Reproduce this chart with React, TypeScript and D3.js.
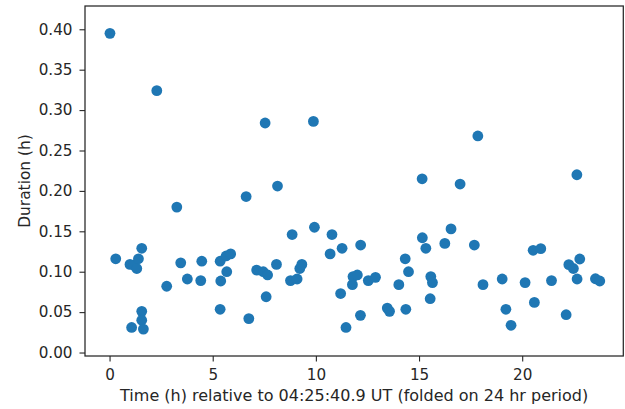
import React, { useEffect, useRef } from "react";
import * as d3 from "d3";

// folded time (h) and event duration (h)
const timeH = [
  0.02, 0.3, 0.99, 1.07, 1.18, 1.32, 1.4, 1.56, 1.56, 1.56, 1.64, 2.29, 2.77,
  3.26, 3.45, 3.77, 4.42, 4.47, 5.36, 5.36, 5.39, 5.65, 5.68, 5.87, 6.62, 6.75,
  7.13, 7.45, 7.54, 7.59, 7.66, 8.09, 8.14, 8.77, 8.85, 9.09, 9.22, 9.32, 9.88,
  9.93, 10.69, 10.78, 11.2, 11.27, 11.46, 11.77, 11.8, 12.01, 12.16, 12.17,
  12.54, 12.89, 13.46, 13.57, 14.02, 14.33, 14.36, 14.49, 15.15, 15.16, 15.33,
  15.54, 15.57, 15.65, 16.25, 16.55, 16.99, 17.68, 17.85, 18.1, 19.03, 19.21,
  19.46, 20.14, 20.53, 20.59, 20.9, 21.42, 22.13, 22.26, 22.48, 22.65, 22.66,
  22.79, 23.55, 23.76,
];
const durationH = [
  0.395, 0.116, 0.109, 0.031, 0.108, 0.104, 0.116, 0.129, 0.051, 0.04, 0.029,
  0.324, 0.082, 0.18, 0.111, 0.091, 0.089, 0.113, 0.113, 0.0535, 0.0885,
  0.1195, 0.1, 0.122, 0.193, 0.042, 0.102, 0.1, 0.284, 0.069, 0.096, 0.109,
  0.206, 0.089, 0.146, 0.091, 0.104, 0.109, 0.286, 0.155, 0.122, 0.146, 0.073,
  0.129, 0.031, 0.084, 0.094, 0.096, 0.046, 0.133, 0.089, 0.093, 0.055, 0.051,
  0.084, 0.116, 0.0535, 0.1, 0.215, 0.142, 0.129, 0.0666, 0.094, 0.0865, 0.135,
  0.153, 0.2085, 0.133, 0.268, 0.084, 0.091, 0.0535, 0.0337, 0.0865, 0.1265,
  0.062, 0.1285, 0.089, 0.0468, 0.1087, 0.104, 0.22, 0.091, 0.1157, 0.0913,
  0.0885,
];
const xTicks = [0, 5, 10, 15, 20];
const yTicks = [0, 0.05, 0.1, 0.15, 0.2, 0.25, 0.3, 0.35, 0.4];

const App: React.FC = () => {
  const ref = useRef<SVGSVGElement | null>(null);

  useEffect(() => {
    const svg = d3.select(ref.current);
    svg.selectAll("*").remove();

    const left = 85, right = 623.3, top = 6, bottom = 356;
    const ink = "#262626";
    const font = "'DejaVu Sans', sans-serif";

    const x = d3.scaleLinear().domain([-1.19, 24.9]).range([left, right]);
    const y = d3.scaleLinear().domain([-0.0043, 0.4288]).range([bottom, top]);

    const xAxis = svg
      .append("g")
      .attr("transform", `translate(0,${bottom})`)
      .call(d3.axisBottom(x).tickValues(xTicks).tickSize(5.5).tickPadding(8).tickFormat(d3.format("d")));
    const yAxis = svg
      .append("g")
      .attr("transform", `translate(${left},0)`)
      .call(d3.axisLeft(y).tickValues(yTicks).tickSize(5.5).tickPadding(7).tickFormat(d3.format(".2f")));

    [xAxis, yAxis].forEach((g) => {
      g.select(".domain").remove();
      g.selectAll(".tick line").attr("stroke", ink).attr("stroke-width", 1.1);
      g.selectAll(".tick text")
        .attr("fill", ink)
        .style("font-family", font)
        .style("font-size", "15.2px");
    });

    // frame
    svg
      .append("rect")
      .attr("x", left)
      .attr("y", top)
      .attr("width", right - left)
      .attr("height", bottom - top)
      .attr("fill", "none")
      .attr("stroke", ink)
      .attr("stroke-width", 1.25);

    svg
      .append("g")
      .selectAll("circle")
      .data(d3.range(timeH.length))
      .join("circle")
      .attr("cx", (i) => x(timeH[i]))
      .attr("cy", (i) => y(durationH[i]))
      .attr("r", 5.4)
      .attr("fill", "#1f77b4");

    svg
      .append("text")
      .attr("x", (left + right) / 2)
      .attr("y", 400.5)
      .attr("text-anchor", "middle")
      .attr("fill", ink)
      .style("font-family", font)
      .style("font-size", "16px")
      .text("Time (h) relative to 04:25:40.9 UT (folded on 24 hr period)");

    svg
      .append("text")
      .attr("transform", `translate(29.5,${(top + bottom) / 2}) rotate(-90)`)
      .attr("text-anchor", "middle")
      .attr("fill", ink)
      .style("font-family", font)
      .style("font-size", "15.4px")
      .text("Duration (h)");
  }, []);

  return (
    <svg
      ref={ref}
      width={625}
      height={409}
      style={{ position: "absolute", left: 0, top: 0, background: "#fff" }}
    />
  );
};

export default App;
